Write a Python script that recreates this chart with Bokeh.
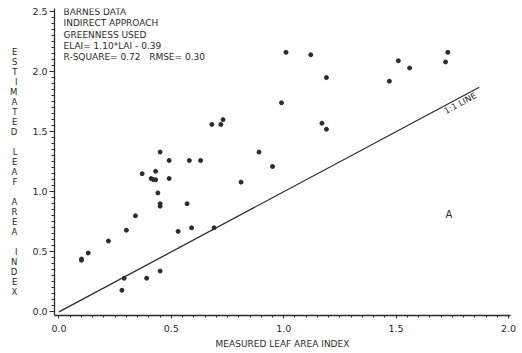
from bokeh.plotting import figure
from bokeh.models import Label, Range1d, SingleIntervalTicker, PrintfTickFormatter
from bokeh.embed import file_html
from bokeh.resources import INLINE

# Measured vs estimated leaf area index (Barnes data, indirect approach)
measured_lai = [0.45, 0.49, 0.58, 0.63, 0.37, 0.43, 0.41, 0.42, 0.43, 0.49,
                0.44, 0.57, 0.45, 0.45, 0.34, 0.30, 0.22, 0.13, 0.10, 0.10,
                0.53, 0.59, 0.29, 0.39, 0.45, 0.28, 0.69, 0.81,
                0.68, 0.72, 0.73, 1.01, 1.12, 1.19, 0.99, 1.17, 1.19, 0.89, 0.95,
                1.51, 1.56, 1.47, 1.73, 1.72]
estimated_lai = [1.33, 1.26, 1.26, 1.26, 1.15, 1.17, 1.11, 1.10, 1.10, 1.11,
                 0.99, 0.90, 0.90, 0.88, 0.80, 0.68, 0.59, 0.49, 0.44, 0.43,
                 0.67, 0.70, 0.28, 0.28, 0.34, 0.18, 0.70, 1.08,
                 1.56, 1.56, 1.60, 2.16, 2.14, 1.95, 1.74, 1.57, 1.52, 1.33, 1.21,
                 2.09, 2.03, 1.92, 2.16, 2.08]
one_to_one = [0.0, 1.87]
info_lines = ["BARNES DATA", "INDIRECT APPROACH", "GREENNESS USED",
              "ELAI= 1.10*LAI - 0.39",
              "R-SQUARE= 0.72\u00a0\u00a0\u00a0RMSE= 0.30"]
x_title = "MEASURED LEAF AREA INDEX"
y_title = "ESTIMATED LEAF AREA INDEX"

INK = "#2b2b2b"
FONT = "DejaVu Sans"

p = figure(width=522, height=353, output_backend="svg", toolbar_location=None,
           x_range=Range1d(-0.02, 2.009), y_range=Range1d(-0.03, 2.525),
           min_border_left=54, min_border_right=12, min_border_top=8,
           min_border_bottom=38, background_fill_color="white")
p.outline_line_color = None
p.grid.visible = False

for ax in (p.xaxis[0], p.yaxis[0]):
    ax.ticker = SingleIntervalTicker(interval=0.5, num_minor_ticks=10)
    ax.formatter = PrintfTickFormatter(format="%.1f")
    ax.axis_line_color = INK
    ax.axis_line_width = 1.3
    ax.major_tick_line_color = INK
    ax.minor_tick_line_color = INK
    ax.major_label_text_font = FONT
    ax.major_label_text_font_size = "9.5px"
    ax.major_label_text_color = INK
    ax.major_tick_in = 0
    ax.minor_tick_in = 0

p.xaxis.major_tick_out = 3
p.xaxis.minor_tick_out = 2
p.xaxis.major_label_standoff = 6
p.xaxis.axis_label = x_title
p.xaxis.axis_label_text_font = FONT
p.xaxis.axis_label_text_font_size = "9px"
p.xaxis.axis_label_text_font_style = "normal"
p.xaxis.axis_label_text_color = INK
p.xaxis.axis_label_standoff = 4

p.yaxis.major_tick_out = 5
p.yaxis.minor_tick_out = 3
p.yaxis.major_label_standoff = 2
# Stacked vertical y-axis title, one upright letter per line
# (two leading blank lines push the stack down as in the original)
stack = ["\u00a0", "\u00a0"] + [ch if ch != " " else "\u00a0" for ch in y_title]
p.yaxis.axis_label = "\n".join(stack)
p.yaxis.axis_label_orientation = "horizontal"
p.yaxis.axis_label_text_font = FONT
p.yaxis.axis_label_text_font_size = "8.5px"
p.yaxis.axis_label_text_font_style = "normal"
p.yaxis.axis_label_text_color = INK
p.yaxis.axis_label_text_line_height = 1.0
p.yaxis.axis_label_text_align = "center"
p.yaxis.axis_label_standoff = 12

# 1:1 line and data points
p.line(one_to_one, one_to_one, line_color=INK, line_width=1.3)
p.scatter(measured_lai, estimated_lai, size=4, marker="circle",
          fill_color=INK, line_color=INK)

# Info text block
for i, t in enumerate(info_lines):
    p.add_layout(Label(x=0.02, y=2.492 - i * 0.0917, text=t, text_font=FONT,
                       text_font_size="9px", text_color=INK,
                       text_baseline="middle", text_align="left"))

p.add_layout(Label(x=1.785, y=1.737, text="1:1 LINE", angle=0.5,
                   text_font=FONT, text_font_size="8.5px", text_color=INK,
                   text_align="center", text_baseline="middle"))
p.add_layout(Label(x=1.735, y=0.814, text="A", text_font=FONT,
                   text_font_size="10px", text_color=INK,
                   text_align="center", text_baseline="middle"))

open("out.html", "w").write(file_html(p, INLINE))
